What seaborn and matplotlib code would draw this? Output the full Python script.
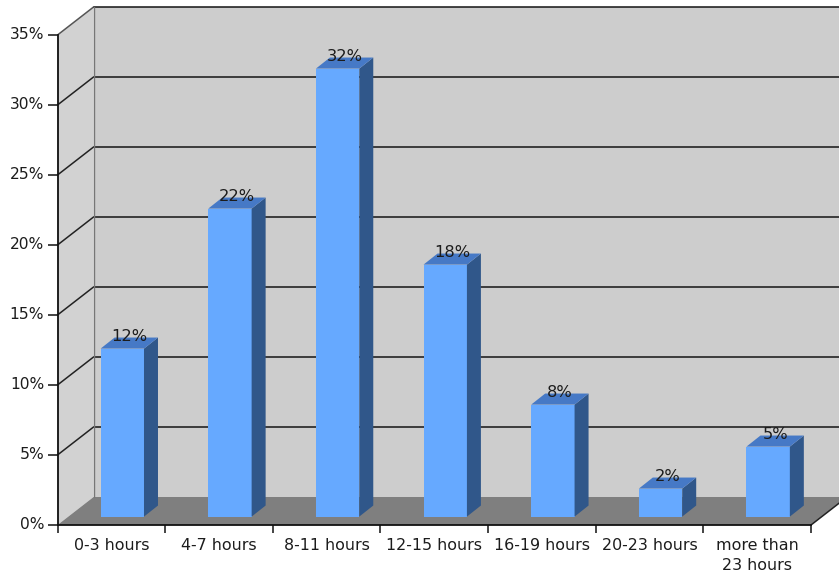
import matplotlib
matplotlib.use("Agg")
import matplotlib.pyplot as plt
import pandas as pd
import seaborn as sns
from matplotlib.patches import Polygon, Rectangle
from matplotlib.transforms import Affine2D, ScaledTranslation

categories = ["0-3 hours", "4-7 hours", "8-11 hours", "12-15 hours",
              "16-19 hours", "20-23 hours", "more than\n23 hours"]
shares = [12, 22, 32, 18, 8, 2, 5]
y_ticks = [0, 5, 10, 15, 20, 25, 30, 35]

WALL = "#cdcdcd"
SIDE_WALL = "#d2d2d2"
FLOOR = "#7f7f7f"
FRONT = "#66a9ff"
SIDE = "#30578a"
TOP = "#4679c6"
INK = "#1c1c1c"

# Pseudo-3D depth of the room and of the bars, in data units
ROOM_DX, ROOM_DY = 0.335, 2.0
BAR_SHIFT_X, BAR_SHIFT_Y = 0.102, 0.6
BAR_DX, BAR_DY = 0.13, 0.79
BAR_WIDTH = 0.403

sns.set_theme(style="white")
plt.rcParams["font.family"] = ["DejaVu Sans"]

W, H = 839, 574
fig = plt.figure(figsize=(W / 100, H / 100), dpi=100, facecolor="white")
left, right, y0, y35 = 57.5, 811.0, 525.0, 35.0
ax = fig.add_axes([left / W, 1 - y0 / H, (right - left) / W, (y0 - y35) / H])

df = pd.DataFrame({"category": categories, "share": shares})
sns.barplot(data=df, x="category", y="share", color=FRONT, saturation=1,
            width=BAR_WIDTH, ax=ax, zorder=5, linewidth=0)
bars = list(ax.containers[0])
ax.set_xlim(-0.5, 6.5)
ax.set_ylim(0, 35)
ax.set_xlabel("")
ax.set_ylabel("")
ax.patch.set_alpha(0)

xl, xr = -0.5, 6.5
back = dict(clip_on=False)
# Back wall, side wall and floor
ax.add_patch(Rectangle((xl + ROOM_DX, ROOM_DY), xr - xl, 35,
                       fc=WALL, ec="none", zorder=1, **back))
ax.add_patch(Polygon([(xl, 0), (xl + ROOM_DX, ROOM_DY), (xl + ROOM_DX, 35 + ROOM_DY),
                      (xl, 35)], fc=SIDE_WALL, ec="none", zorder=1, **back))
ax.add_patch(Polygon([(xl, 0), (xr, 0), (xr + ROOM_DX, ROOM_DY), (xl + ROOM_DX, ROOM_DY)],
                     fc=FLOOR, ec="none", zorder=2, **back))

# Grid lines run along the side wall and across the back wall
for v in y_ticks[1:]:
    c = "#555555" if v == 35 else "#222222"
    ax.plot([xl, xl + ROOM_DX], [v, v + ROOM_DY], color=c, lw=1.1, zorder=3, **back)
    ax.plot([xl + ROOM_DX, xr + ROOM_DX], [v + ROOM_DY, v + ROOM_DY],
            color="#141414", lw=1.1, zorder=3, **back)
ax.plot([xl + ROOM_DX] * 2, [ROOM_DY, 35 + ROOM_DY], color="#777777", lw=1.0, zorder=3, **back)
ax.plot([xr, xr + ROOM_DX], [0, ROOM_DY], color="#222222", lw=1.1, zorder=3, **back)

# Shift each front face onto the floor, then add its side and top faces
shift = Affine2D().translate(BAR_SHIFT_X, BAR_SHIFT_Y) + ax.transData
for bar, value in zip(bars, shares):
    bar.set_transform(shift)
    bar.set_clip_on(False)
    x0 = bar.get_x() + BAR_SHIFT_X
    x1 = x0 + bar.get_width()
    yb = BAR_SHIFT_Y
    yt = value + BAR_SHIFT_Y
    ax.add_patch(Polygon([(x1, yb), (x1 + BAR_DX, yb + BAR_DY), (x1 + BAR_DX, yt + BAR_DY), (x1, yt)],
                         fc=SIDE, ec="none", zorder=5, **back))
    ax.add_patch(Polygon([(x0, yt), (x1, yt), (x1 + BAR_DX, yt + BAR_DY), (x0 + BAR_DX, yt + BAR_DY)],
                         fc=TOP, ec="none", zorder=5, **back))
    ax.text((x0 + x1 + BAR_DX) / 2, yt + 0.3, f"{value}%", ha="center", va="bottom",
            fontsize=11.7, color=INK, zorder=6)

# Ticks mark the category boundaries; labels sit at the category centres
ax.set_xticks([i - 0.5 for i in range(len(categories) + 1)])
ax.set_xticklabels([])
ax.set_xticks(range(len(categories)), minor=True)
ax.set_xticklabels(categories, minor=True, fontsize=11.4, color=INK, linespacing=1.36)
ax.set_yticks(y_ticks)
ax.set_yticklabels([f"{v}%" for v in y_ticks], fontsize=11.2, color=INK)
ax.tick_params(axis="x", which="major", length=6, width=1.1, color="#111111", bottom=True)
ax.tick_params(axis="x", which="minor", length=0, pad=9.5, bottom=False)
ax.tick_params(axis="y", length=7.5, width=1.1, color="#111111", left=True, pad=2)

# Value labels sit slightly above their tick marks
nudge = ScaledTranslation(0, 1.5 / 72, fig.dpi_scale_trans)
for label in ax.get_yticklabels():
    label.set_transform(label.get_transform() + nudge)

sns.despine(ax=ax, top=True, right=True)
for name in ("left", "bottom"):
    ax.spines[name].set_color("#111111")
    ax.spines[name].set_linewidth(1.3)
    ax.spines[name].set_zorder(7)

fig.savefig("out.png", dpi=100, facecolor="white")
